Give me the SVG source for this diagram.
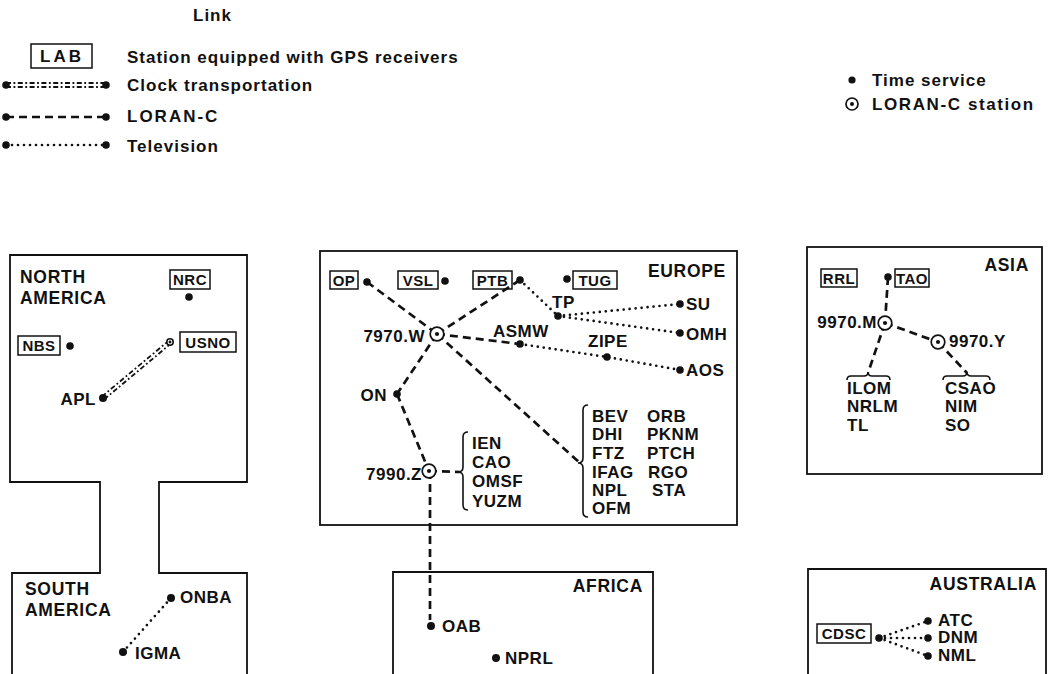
<svg xmlns="http://www.w3.org/2000/svg" width="1050" height="674" viewBox="0 0 1050 674">
<style>
text{font-family:"Liberation Sans",Arial,sans-serif;font-weight:bold;fill:#111;font-size:17px;letter-spacing:0.5px}
.t{font-size:17.5px;letter-spacing:0.7px}
.lg{font-size:17px;letter-spacing:1px}
.lc{letter-spacing:2px}
.bx{font-size:15px;letter-spacing:0.5px;text-anchor:middle}
.e{text-anchor:end}
.box{fill:none;stroke:#111;stroke-width:1.5}
.reg{fill:none;stroke:#111;stroke-width:1.8}
.dot{fill:#111}
.ls{fill:#fff;stroke:#111;stroke-width:1.7}
.loran{fill:none;stroke:#111;stroke-width:2.7;stroke-dasharray:8 5}
.tv{fill:none;stroke:#111;stroke-width:2.7;stroke-dasharray:0 6;stroke-linecap:round}
.clock{fill:none;stroke:#111;stroke-width:1.8;stroke-dasharray:5 2.5 1.8 2.5}
.br{fill:none;stroke:#111;stroke-width:1.6}
</style>
<rect width="1050" height="674" fill="#fff"/>

<g id="legend">
<text x="193" y="21" class="lg">Link</text>
<rect x="31" y="44" width="61" height="24" class="box"/>
<text x="62" y="62" class="lg" style="text-anchor:middle;letter-spacing:3px">LAB</text>
<text x="127" y="63" class="lg">Station equipped with GPS receivers</text>
<line x1="6" y1="83" x2="106" y2="83" class="clock"/>
<line x1="6" y1="87" x2="106" y2="87" class="clock"/>
<circle cx="6" cy="85" r="3.8" class="dot"/><circle cx="106" cy="85" r="3.8" class="dot"/>
<text x="127" y="91" class="lg">Clock transportation</text>
<line x1="6" y1="117" x2="106" y2="117" class="loran"/>
<circle cx="6" cy="117" r="3.8" class="dot"/><circle cx="106" cy="117" r="3.8" class="dot"/>
<text x="127" y="122" class="lg lc">LORAN-C</text>
<line x1="6" y1="145" x2="106" y2="145" class="tv"/>
<circle cx="6" cy="145" r="3.8" class="dot"/><circle cx="106" cy="145" r="3.8" class="dot"/>
<text x="127" y="152" class="lg">Television</text>
<circle cx="852" cy="80" r="3.6" class="dot"/>
<text x="872" y="86" class="lg">Time service</text>
<circle cx="852" cy="104" r="6" class="ls"/><circle cx="852" cy="104" r="2" class="dot"/>
<text x="872" y="110" class="lg" style="letter-spacing:1.6px">LORAN-C station</text>
</g>

<g id="regions">
<path d="M12,680 V573 H100 V482 H10 V255 H247 V482 H159 V573 H247 V680" class="reg"/>
<rect x="320" y="251" width="417" height="274" class="reg"/>
<rect x="807" y="247" width="235" height="227" class="reg"/>
<path d="M393,680 V572 H653 V680" class="reg"/>
<path d="M808,680 V569 H1046 V680" class="reg"/>
</g>

<g id="connectors">
<line x1="104.15" y1="399.38" x2="171.15" y2="343.38" class="clock"/>
<line x1="101.85" y1="396.62" x2="168.85" y2="340.62" class="clock"/>
<line x1="123" y1="652" x2="171" y2="598" class="tv"/>
<line x1="367" y1="282" x2="437" y2="334" class="loran"/>
<line x1="437" y1="334" x2="580" y2="463" class="loran"/>
<line x1="520" y1="280" x2="437" y2="334" class="loran"/>
<line x1="437" y1="334" x2="520" y2="344" class="loran"/>
<line x1="437" y1="334" x2="397" y2="394" class="loran"/>
<line x1="397" y1="394" x2="429" y2="471" class="loran"/>
<line x1="429" y1="471" x2="460" y2="472" class="loran"/>
<line x1="430" y1="471" x2="430" y2="620" class="loran"/>
<line x1="520" y1="280" x2="558" y2="316" class="tv"/>
<line x1="558" y1="316" x2="680" y2="304" class="tv"/>
<line x1="558" y1="316" x2="680" y2="333" class="tv"/>
<polyline points="520,344 607,357 680,370" class="tv"/>
<line x1="888" y1="277" x2="885" y2="323" class="loran"/>
<line x1="885" y1="323" x2="938" y2="342" class="loran"/>
<line x1="885" y1="323" x2="868" y2="373" class="loran"/>
<line x1="938" y1="342" x2="967" y2="373" class="loran"/>
<line x1="879" y1="638" x2="928" y2="621" class="tv"/>
<line x1="879" y1="638" x2="928" y2="638" class="tv"/>
<line x1="879" y1="638" x2="928" y2="656" class="tv"/>
<path d="M468,432 Q463,432 463,437 V467 Q463,472 458,472 Q463,472 463,477 V505 Q463,510 468,510" class="br"/>
<path d="M588,405 Q583,405 583,410 V458 Q583,463 578,463 Q583,463 583,468 V512 Q583,517 588,517" class="br"/>
<path d="M847,380 Q847,376 851,376 H864 Q868,376 868,372 Q868,376 872,376 H886 Q890,376 890,380" class="br"/>
<path d="M943,380 Q943,376 947,376 H963 Q967,376 967,372 Q967,376 971,376 H986 Q990,376 990,380" class="br"/>
</g>

<g id="north-america">
<text x="20" y="283" class="t">NORTH</text>
<text x="20" y="304" class="t">AMERICA</text>
<g id="NRC"><rect x="170" y="270" width="40" height="19" class="box"/><text x="190" y="285" class="bx">NRC</text><circle cx="189" cy="297" r="3.8" class="dot"/></g>
<g id="NBS"><rect x="18" y="336" width="42" height="19" class="box"/><text x="39" y="351" class="bx">NBS</text><circle cx="70" cy="346" r="3.8" class="dot"/></g>
<g id="USNO"><rect x="180" y="332" width="56" height="20" class="box"/><text x="208" y="348" class="bx">USNO</text><circle cx="170" cy="342" r="3.2" fill="#fff" stroke="#111" stroke-width="1.6"/><circle cx="170" cy="342" r="1.4" class="dot"/></g>
<g id="APL"><text x="96" y="405" class="e">APL</text><circle cx="103" cy="398" r="4" class="dot"/></g>
</g>

<g id="south-america">
<text x="25" y="595" class="t">SOUTH</text>
<text x="25" y="616" class="t">AMERICA</text>
<g id="ONBA"><circle cx="171" cy="598" r="4" class="dot"/><text x="180" y="603">ONBA</text></g>
<g id="IGMA"><circle cx="123" cy="652" r="4" class="dot"/><text x="135" y="659">IGMA</text></g>
</g>

<g id="europe">
<text x="726" y="277" class="t e">EUROPE</text>
<g id="OP"><rect x="330" y="271" width="28" height="18" class="box"/><text x="344" y="286" class="bx">OP</text><circle cx="367" cy="282" r="3.8" class="dot"/></g>
<g id="VSL"><rect x="398" y="271" width="40" height="18" class="box"/><text x="418" y="286" class="bx">VSL</text><circle cx="445" cy="281" r="3.8" class="dot"/></g>
<g id="PTB"><rect x="473" y="271" width="39" height="18" class="box"/><text x="492.5" y="286" class="bx">PTB</text><circle cx="520" cy="280" r="3.8" class="dot"/></g>
<g id="TUG"><circle cx="567" cy="279" r="3.8" class="dot"/><rect x="573" y="271" width="44" height="18" class="box"/><text x="595" y="286" class="bx">TUG</text></g>
<g id="TP"><text x="552" y="308">TP</text><circle cx="558" cy="316" r="3.8" class="dot"/></g>
<g id="W7970"><circle cx="437" cy="334" r="6.8" class="ls"/><circle cx="437" cy="334" r="2.1" class="dot"/><text x="425" y="342" class="e">7970.W</text></g>
<g id="ASMW"><text x="493" y="337">ASMW</text><circle cx="520" cy="344" r="3.8" class="dot"/></g>
<g id="ZIPE"><text x="588" y="347">ZIPE</text><circle cx="607" cy="357" r="3.8" class="dot"/></g>
<g id="SU"><circle cx="680" cy="304" r="3.8" class="dot"/><text x="686" y="310">SU</text></g>
<g id="OMH"><circle cx="680" cy="333" r="3.8" class="dot"/><text x="686" y="340">OMH</text></g>
<g id="AOS"><circle cx="680" cy="370" r="3.8" class="dot"/><text x="686" y="376">AOS</text></g>
<g id="ON"><text x="387" y="401" class="e">ON</text><circle cx="397" cy="394" r="3.8" class="dot"/></g>
<g id="Z7990"><circle cx="429" cy="471" r="6.8" class="ls"/><circle cx="429" cy="471" r="2.1" class="dot"/><text x="422" y="480" class="e">7990.Z</text></g>
<g id="group-7990">
<text x="472" y="449">IEN</text><text x="472" y="468">CAO</text><text x="472" y="487">OMSF</text><text x="472" y="507">YUZM</text>
</g>
<g id="group-7970">
<text x="592" y="422">BEV</text><text x="592" y="440">DHI</text><text x="592" y="459">FTZ</text><text x="592" y="478">IFAG</text><text x="592" y="496">NPL</text><text x="592" y="514">OFM</text>
<text x="647" y="422">ORB</text><text x="647" y="440">PKNM</text><text x="647" y="459">PTCH</text><text x="648" y="478">RGO</text><text x="652" y="496">STA</text>
</g>
</g>

<g id="asia">
<text x="1029" y="271" class="t e">ASIA</text>
<g id="RRL"><rect x="821" y="269" width="36" height="18" class="box"/><text x="839" y="284" class="bx">RRL</text></g>
<g id="TAO"><circle cx="888" cy="277" r="3.8" class="dot"/><rect x="895" y="269" width="34" height="18" class="box"/><text x="912" y="284" class="bx">TAO</text></g>
<g id="M9970"><circle cx="885" cy="323" r="6.8" class="ls"/><circle cx="885" cy="323" r="2.1" class="dot"/><text x="877" y="328" class="e">9970.M</text></g>
<g id="Y9970"><circle cx="938" cy="342" r="6.8" class="ls"/><circle cx="938" cy="342" r="2.1" class="dot"/><text x="949" y="347">9970.Y</text></g>
<g id="group-M"><text x="847" y="394">ILOM</text><text x="847" y="412">NRLM</text><text x="847" y="431">TL</text></g>
<g id="group-Y"><text x="945" y="394">CSAO</text><text x="945" y="412">NIM</text><text x="945" y="431">SO</text></g>
</g>

<g id="africa">
<text x="643" y="592" class="t e">AFRICA</text>
<g id="OAB"><circle cx="431" cy="626" r="4" class="dot"/><text x="442" y="632">OAB</text></g>
<g id="NPRL"><circle cx="496" cy="658" r="4" class="dot"/><text x="505" y="664">NPRL</text></g>
</g>

<g id="australia">
<text x="1037" y="590" class="t e">AUSTRALIA</text>
<g id="CDSC"><rect x="817" y="624" width="54" height="19" class="box"/><text x="844" y="639" class="bx">CDSC</text><circle cx="879" cy="638" r="3.8" class="dot"/></g>
<g id="ATC"><circle cx="928" cy="621" r="3.8" class="dot"/><text x="938" y="626">ATC</text></g>
<g id="DNM"><circle cx="928" cy="638" r="3.8" class="dot"/><text x="938" y="643">DNM</text></g>
<g id="NML"><circle cx="928" cy="656" r="3.8" class="dot"/><text x="938" y="661">NML</text></g>
</g>
</svg>
